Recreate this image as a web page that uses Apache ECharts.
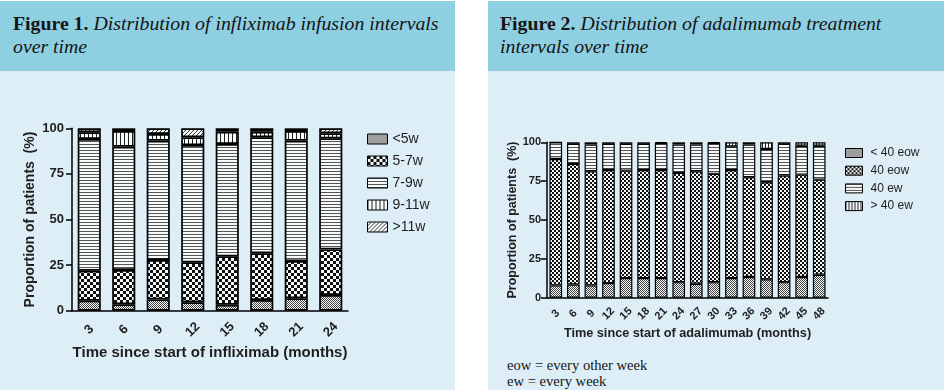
<!DOCTYPE html>
<html>
<head>
<meta charset="utf-8">
<script src="https://cdn.jsdelivr.net/npm/echarts@6/dist/echarts.min.js"></script>
<style>
  html, body { margin:0; padding:0; background:#ffffff; width:944px; height:391px; overflow:hidden; }
  .panel { position:absolute; top:1px; height:389px; background:#ddeef6; }
  .hdr { position:absolute; left:0; top:0; right:0; height:59px; padding-top:11px; background:#8ecfe2;
         font-family:"Liberation Serif", serif; font-size:19.8px; line-height:23px; color:#151515; }
  .hdr b { font-weight:bold; font-style:normal; }
  .hdr i { font-style:italic; }
  #foot { position:absolute; left:507px; top:358px; font-family:"Liberation Serif", serif; font-size:14.6px; line-height:15.5px; color:#151515; }
  #chart { position:absolute; left:0; top:0; width:944px; height:391px; }
</style>
</head>
<body>
<div class="panel" style="left:0;width:455px;">
  <div class="hdr" style="padding-left:13px;"><b>Figure 1.</b> <i>Distribution of infliximab infusion intervals<br>over time</i></div>
</div>
<div class="panel" style="left:488px;width:456px;">
  <div class="hdr" style="padding-left:12px;"><b>Figure 2.</b> <i>Distribution of adalimumab treatment<br>intervals over time</i></div>
</div>
<div id="foot">eow = every other week<br>ew = every week</div>
<div id="chart"></div>
<script>
// ---------- data ----------
const inflixCats = ['3','6','9','12','15','18','21','24'];
const inflixNames = ['<5w','5-7w','7-9w','9-11w','>11w'];
const lt5w   = [5.5, 3.5, 6.2, 4.6, 3.3, 5.9, 6.8, 8.6];
const w5to7  = [16.4, 18.8, 21.6, 21.9, 26.5, 25.6, 20.4, 25.0];
const w7to9  = [72.2, 67.6, 65.4, 64.3, 61.6, 63.6, 66.0, 60.9];
const w9to11 = [3.7, 8.6, 3.7, 4.3, 6.7, 3.0, 5.3, 2.8];
const gt11w  = [2.2, 1.5, 3.1, 4.9, 1.9, 1.9, 1.5, 2.7];

const adaCats = ['3','6','9','12','15','18','21','24','27','30','33','36','39','42','45','48'];
const adaNames = ['< 40 eow','40 eow','40 ew','> 40 ew'];
const lt40eow = [7.9, 8.5, 7.9, 9.4, 12.6, 12.6, 12.6, 10.0, 9.0, 10.0, 12.6, 13.3, 11.8, 10.0, 13.3, 14.8];
const eow40   = [81.4, 77.6, 73.5, 72.8, 69.2, 69.6, 69.6, 70.3, 72.4, 69.7, 69.6, 64.2, 62.5, 68.6, 65.9, 61.2];
const ew40    = [10.7, 12.9, 17.1, 16.8, 17.2, 16.8, 17.3, 18.2, 17.1, 19.8, 15.2, 21.0, 21.4, 20.4, 18.6, 21.8];
const gt40ew  = [0, 1, 1.5, 1, 1, 1, 0.5, 1.5, 1.5, 0.5, 2.6, 1.5, 4.3, 1, 2.2, 2.2];

const yTicks = [0, 25, 50, 75, 100];

// ---------- patterns ----------
const LIGHT = '#f7fafb';
function pat(w, h, draw) {
  const c = document.createElement('canvas');
  c.width = w; c.height = h;
  const g = c.getContext('2d');
  g.fillStyle = LIGHT; g.fillRect(0, 0, w, h);
  draw(g);
  return { image: c, repeat: 'repeat' };
}
function fine() { return pat(2, 2, g => { g.fillStyle = '#444'; g.fillRect(0,0,1,1); g.fillRect(1,1,1,1); }); }
function checker(s) { return pat(2*s, 2*s, g => { g.fillStyle = '#111'; g.fillRect(0,0,s,s); g.fillRect(s,s,s,s); }); }
function hlines(p) { return pat(1, p, g => { g.fillStyle = '#555'; g.fillRect(0,0,1,1); }); }
function vlines(p) { return pat(p, 1, g => { g.fillStyle = '#222'; g.fillRect(0,0,1,1); }); }
function diag() { return pat(4, 4, g => { g.fillStyle = '#333'; for (let i=0;i<4;i++){ g.fillRect(3-i,i,1,1); } }); }

const leftFills = [fine(), checker(3), hlines(3), vlines(4), diag()];
const rightFills = [fine(), checker(2), hlines(3), vlines(3)];
const leftData = [lt5w, w5to7, w7to9, w9to11, gt11w];
const rightData = [lt40eow, eow40, ew40, gt40ew];

const FONT = 'Liberation Sans, Arial, sans-serif';
const TXT = '#1e1e1e';

const series = [];
inflixNames.forEach((n, i) => series.push({
  name: n, type: 'bar', stack: 'inf', xAxisIndex: 0, yAxisIndex: 0, barWidth: '67%',
  data: leftData[i],
  itemStyle: { color: leftFills[i], borderColor: '#000', borderWidth: 1.7 }
}));
adaNames.forEach((n, i) => series.push({
  name: n, type: 'bar', stack: 'ada', xAxisIndex: 1, yAxisIndex: 1, barWidth: '72%',
  data: rightData[i],
  itemStyle: { color: rightFills[i], borderColor: '#000', borderWidth: 1.2 }
}));

function xAxis(idx, cats, fs, margin, name, gap, nfs) {
  return {
    type: 'category', gridIndex: idx, data: cats,
    axisLine: { lineStyle: { color: '#000', width: 1.5 } },
    axisTick: { alignWithLabel: true, length: 5, lineStyle: { color: '#000', width: 1.5 } },
    axisLabel: { rotate: 45, align: 'center', verticalAlign: 'middle', margin: margin,
                 fontFamily: FONT, fontWeight: 'bold', fontSize: fs, color: TXT, interval: 0 },
    name: name, nameLocation: 'middle', nameGap: gap,
    nameTextStyle: { fontFamily: FONT, fontWeight: 'bold', fontSize: nfs, color: TXT, verticalAlign: 'middle', align: 'center' }
  };
}
function yAxis(idx, fs, margin, name, gap, nfs) {
  return {
    type: 'value', gridIndex: idx, min: yTicks[0], max: yTicks[yTicks.length-1], interval: 25,
    axisLine: { show: true, lineStyle: { color: '#000', width: 1.5 } },
    axisTick: { show: true, length: 6, lineStyle: { color: '#000', width: 1.5 } },
    splitLine: { show: false },
    axisLabel: { fontFamily: FONT, fontWeight: 'bold', fontSize: fs, color: TXT, margin: margin },
    name: name, nameLocation: 'middle', nameGap: gap, nameRotate: 90,
    nameTextStyle: { fontFamily: FONT, fontWeight: 'bold', fontSize: nfs, color: TXT, verticalAlign: 'middle', align: 'center' }
  };
}

const chart = echarts.init(document.getElementById('chart'), null, { renderer: 'canvas' });
chart.setOption({
  backgroundColor: 'transparent',
  animation: false,
  grid: [
    { left: 72, top: 128.3, width: 276, height: 182.4 },
    { left: 547, top: 142.3, width: 281, height: 155.4 }
  ],
  xAxis: [
    xAxis(0, inflixCats, 13, 19, 'Time since start of infliximab (months)', 42, 15),
    xAxis(1, adaCats, 11, 16, 'Time since start of adalimumab (months)', 36, 12.7)
  ],
  yAxis: [
    yAxis(0, 13, 8, 'Proportion of patients  (%)', 42, 14),
    yAxis(1, 11, 6, 'Proportion of patients  (%)', 31, 12.5)
  ],
  legend: [
    { data: inflixNames, orient: 'vertical', left: 367, top: 132, padding: 0, itemWidth: 20, itemHeight: 10, itemGap: 8,
      icon: 'rect', selectedMode: false,
      itemStyle: { borderColor: '#000', borderWidth: 1 },
      textStyle: { fontFamily: FONT, fontSize: 14, color: TXT, lineHeight: 14 } },
    { data: adaNames, orient: 'vertical', left: 845, top: 147, padding: 0, itemWidth: 17, itemHeight: 9, itemGap: 5.7,
      icon: 'rect', selectedMode: false,
      itemStyle: { borderColor: '#000', borderWidth: 1 },
      textStyle: { fontFamily: FONT, fontSize: 12, color: TXT, lineHeight: 12, padding: [0,0,0,3] } }
  ],
  series: series
});
</script>
</body>
</html>
